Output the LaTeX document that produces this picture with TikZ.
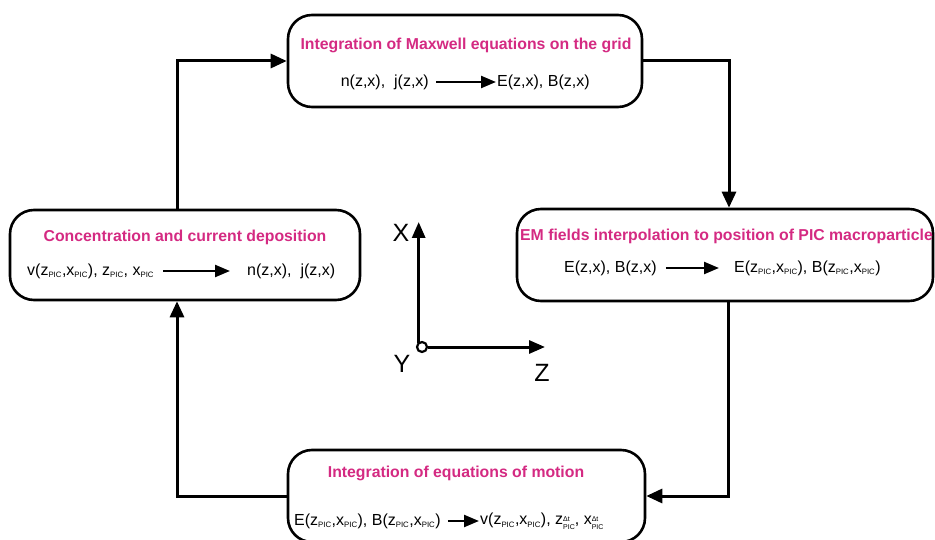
\documentclass[tikz,border=0pt]{standalone}
\usepackage{fontspec}
\setmainfont{Liberation Sans}
\usetikzlibrary{arrows.meta}
\definecolor{ttl}{HTML}{D42A82}
\newcommand{\pc}{\textsubscript{\fontsize{7.8}{8}\selectfont PIC}}
\newcommand{\pcdt}{\raisebox{-4.5pt}{\fontsize{7}{7.5}\selectfont\shortstack[l]{Δt\\PIC}}}
\begin{document}
\begin{tikzpicture}[x=1pt,y=-1pt,
  box/.style={draw,line width=2.6pt,rounded corners=24pt,inner sep=0pt},
  ttlnode/.style={font=\fontsize{15.8}{18}\selectfont\bfseries,text=ttl,inner sep=0pt},
  frm/.style={font=\fontsize{16}{18}\selectfont,inner sep=1pt},
  inarrow/.style={line width=2.4pt,-{Triangle[length=15pt,width=12pt]}},
  conn/.style={line width=3pt,-{Triangle[length=16pt,width=14pt]}},
  axarrow/.style={line width=3pt,-{Triangle[length=16pt,width=13pt]}},
  axlab/.style={font=\fontsize{25}{27}\selectfont,inner sep=0pt}]
\useasboundingbox (0,0) rectangle (935,540);
% boxes
\node[box,minimum width=354pt,minimum height=92pt] (tbox) at (465,61) {};
\node[box,minimum width=350pt,minimum height=90pt] (lbox) at (185,255) {};
\node[box,minimum width=416pt,minimum height=92pt] (rbox) at (725,255) {};
\node[box,minimum width=357pt,minimum height=92pt] (bbox) at (466.5,496) {};
% top box texts
\node[ttlnode] (tt) at (466,45) {Integration of Maxwell equations on the grid};
\node[frm,anchor=east] (t1) at (430,82) {n(z,x),\ \ j(z,x)};
\node[frm,anchor=west] (t2) at (496,82) {E(z,x), B(z,x)};
\draw[inarrow,shorten <=6pt] (t1) -- (t2);
% left box texts
\node[ttlnode] (lt) at (185,237) {Concentration and current deposition};
\node[frm,anchor=west] (l1) at (26,271) {v(z\pc,x\pc), z\pc, x\pc};
\node[frm,anchor=west] (l2) at (246,271) {n(z,x),\ \ j(z,x)};
\draw[inarrow,shorten <=8pt,shorten >=16pt] (l1) -- (l2);
% right box texts
\node[ttlnode,anchor=west] (rt) at (520,236) {EM fields interpolation to position of PIC macroparticle};
\node[frm,anchor=west] (r1) at (563,268) {E(z,x), B(z,x)};
\node[frm,anchor=west] (r2) at (733,268) {E(z\pc,x\pc), B(z\pc,x\pc)};
\draw[inarrow,shorten <=8pt,shorten >=14pt] (r1) -- (r2);
% bottom box texts
\node[ttlnode] (bt) at (456,473) {Integration of equations of motion};
\node[frm,anchor=west] (b1) at (293,521) {E(z\pc,x\pc), B(z\pc,x\pc)};
\node[frm,anchor=west] (b2) at (479,521) {v(z\pc,x\pc), z\pcdt, x\pcdt};
\draw[inarrow,shorten <=6pt] (b1) -- (b2);
% connectors
\draw[conn] ([xshift=-8pt]lbox.north) |- (tbox.west);
\draw[conn] (tbox.east) -| ([xshift=4pt]rbox.north);
\draw[conn] ([xshift=3pt]rbox.south) |- (bbox.east);
\draw[conn] (bbox.west) -| ([xshift=-8pt]lbox.south);
% axes
\node[draw,circle,line width=2.2pt,minimum size=10pt,inner sep=0pt] (o) at (422,347) {};
\coordinate (xtip) at (420,222);
\coordinate (ztip) at (545,347);
\draw[axarrow] (o.north west) ++(1pt,0) coordinate (ob) -- (ob |- xtip);
\draw[axarrow] (o.east) -- (ztip);
\node[axlab] (xl) at (401,233) {X};
\node[axlab] (yl) at (402,364) {Y};
\node[axlab] (zl) at (542,373) {Z};
\end{tikzpicture}
\end{document}
